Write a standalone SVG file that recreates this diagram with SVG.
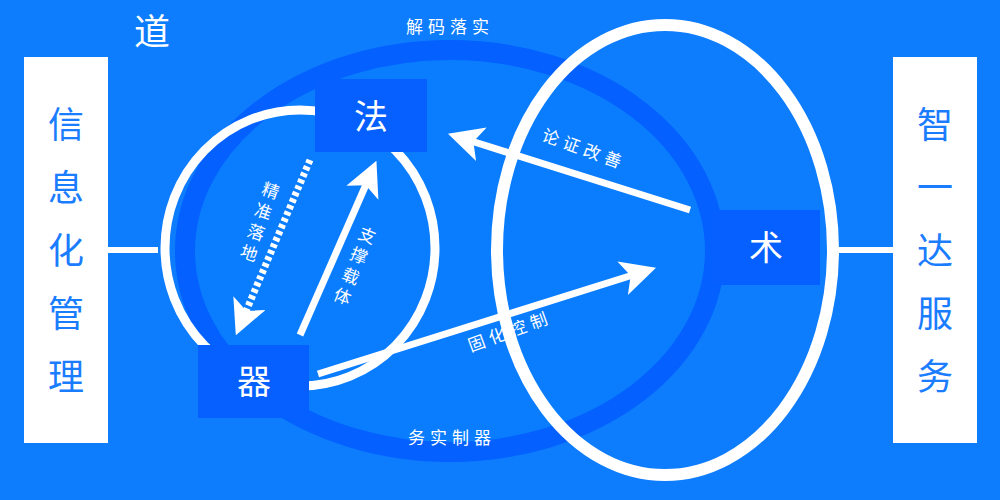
<svg xmlns="http://www.w3.org/2000/svg" width="1000" height="500" viewBox="0 0 1000 500">
<defs>
<style>
.t{font-family:"Noto Sans CJK SC",sans-serif;fill:#fff}
.side{font-family:"Noto Sans CJK SC",sans-serif;fill:#1a7cff;font-size:36px;text-anchor:middle}
.box{fill:#0560ff}
.lbl{font-family:"Noto Sans CJK SC",sans-serif;fill:#fff;font-size:17px;letter-spacing:5px;text-anchor:middle}
.ar{stroke:#fff;stroke-width:7;fill:none}
</style>
<marker id="ah" markerWidth="5" markerHeight="5" refX="2" refY="2.5" orient="auto" markerUnits="strokeWidth"><path d="M0,0 L5,2.5 L0,5 L1.2,2.5 Z" fill="#fff"/></marker>
</defs>
<rect width="1000" height="500" fill="#0d7cfd"/>
<ellipse cx="450" cy="251" rx="265" ry="201" fill="#0a7dff" stroke="#0460ff" stroke-width="20"/>
<ellipse cx="300" cy="248" rx="135" ry="138" fill="none" stroke="#fff" stroke-width="9"/>
<ellipse cx="665" cy="250" rx="168" ry="225" fill="none" stroke="#fff" stroke-width="12"/>
<g id="connectors">
<line x1="108" y1="250" x2="158" y2="250" stroke="#fff" stroke-width="6"/>
<line x1="838" y1="250" x2="893" y2="250" stroke="#fff" stroke-width="6"/>
<line class="ar" x1="690" y1="210" x2="468" y2="140" marker-end="url(#ah)"/>
<line class="ar" x1="318" y1="374" x2="636" y2="274" marker-end="url(#ah)"/>
<line class="ar" x1="300" y1="335" x2="368" y2="180" marker-end="url(#ah)"/>
<line class="ar" x1="310" y1="160" x2="244" y2="316" stroke-dasharray="4,3" marker-end="url(#ah)"/>
</g>
<text class="t" x="152" y="45" font-size="36" text-anchor="middle">道</text>
<text class="lbl" x="450" y="33">解码落实</text>
<text class="lbl" x="452" y="444">务实制器</text>
<text class="lbl" transform="translate(582,155) rotate(20)" font-size="16">论证改善</text>
<text class="lbl" transform="translate(512,337) rotate(-20)" font-size="16">固化控制</text>
<text class="lbl" transform="translate(354,268) rotate(22)" style="writing-mode:vertical-rl" font-size="16" letter-spacing="10">支撑载体</text>
<text class="lbl" transform="translate(259,224) rotate(19)" style="writing-mode:vertical-rl" font-size="16" letter-spacing="10">精准落地</text>
<g id="left-box"><rect x="24" y="57" width="84" height="386" fill="#fff"/>
<text class="side" x="66" y="138">信</text><text class="side" x="66" y="201">息</text><text class="side" x="66" y="264">化</text><text class="side" x="66" y="327">管</text><text class="side" x="66" y="390">理</text></g>
<g id="right-box"><rect x="893" y="57" width="84" height="386" fill="#fff"/>
<text class="side" x="935" y="138">智</text><text class="side" x="935" y="201">一</text><text class="side" x="935" y="264">达</text><text class="side" x="935" y="327">服</text><text class="side" x="935" y="390">务</text></g>
<g id="fa"><rect class="box" x="315" y="79" width="112" height="73"/><text class="t" x="371" y="129" font-size="34" text-anchor="middle">法</text></g>
<g id="shu"><rect class="box" x="712" y="210" width="108" height="75"/><text class="t" x="766" y="260" font-size="34" text-anchor="middle">术</text></g>
<g id="qi"><rect class="box" x="198" y="345" width="111" height="73"/><text class="t" x="254" y="394" font-size="34" text-anchor="middle">器</text></g>
</svg>
